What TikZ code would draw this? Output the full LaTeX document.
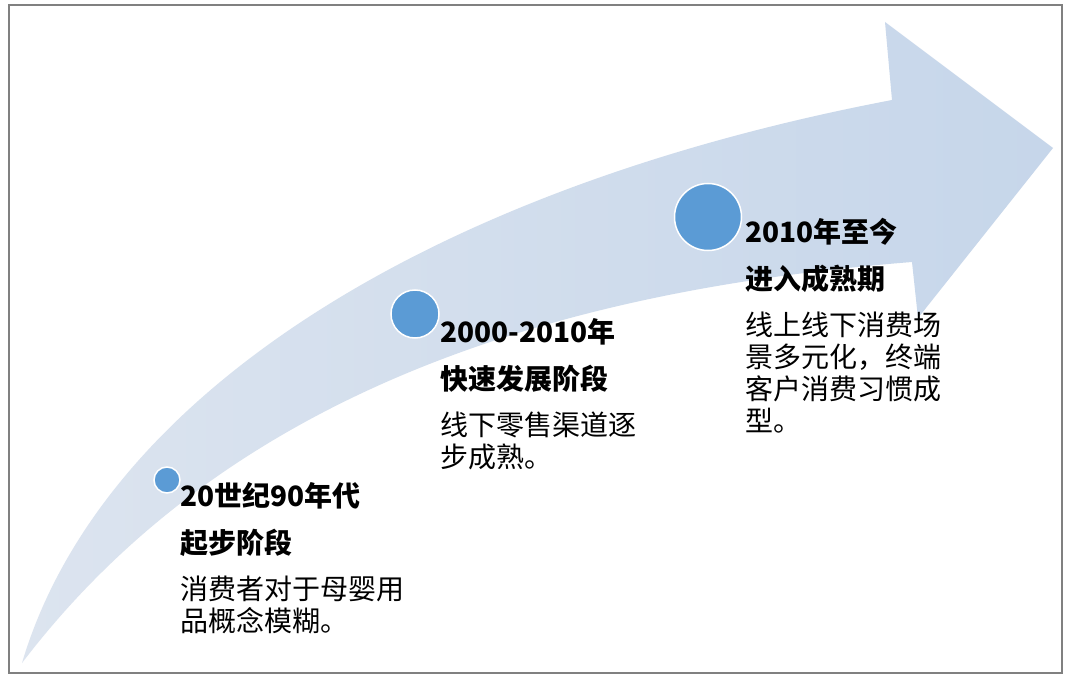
\documentclass[tikz,border=0pt]{standalone}
\usepackage{fontspec}
\setmainfont{Noto Sans CJK SC}
\definecolor{bandlight}{HTML}{DCE4EF}
\definecolor{banddark}{HTML}{C6D6EA}
\definecolor{dotblue}{HTML}{5B9BD5}
\begin{document}
\begin{tikzpicture}[x=1pt,y=-1pt,
  dot/.style={circle,fill=dotblue,draw=white,line width=1.5pt,inner sep=0pt},
  stagetext/.style={anchor=north west,inner sep=0pt,align=left,font=\fontsize{28}{32}\selectfont}]
\useasboundingbox (0,0) rectangle (1072,682);
\fill[white] (0,0) rectangle (1072,682);
\draw[color=black!50,line width=1.2pt] (9,5) rectangle (1062,673);
% arrow band
\shade[left color=bandlight,right color=banddark]
  (22,663) .. controls (100,400) and (420,190) .. (892,100)
  -- (885,22) -- (1053,148) -- (918,318) -- (912,262)
  .. controls (560,290) and (230,390) .. (22,663) -- cycle;
% stages
\node[dot,minimum size=26pt] (dot1) at (167,480) {};
\node[dot,minimum size=48pt] (dot2) at (415,314) {};
\node[dot,minimum size=67pt] (dot3) at (708,217) {};
\node[stagetext] (txt1) at (180,482) {{\bfseries 20世纪90年代}\\[15pt]{\bfseries 起步阶段}\\[14pt]消费者对于母婴用\\品概念模糊。};
\node[stagetext] (txt2) at (440,318) {{\bfseries 2000-2010年}\\[15pt]{\bfseries 快速发展阶段}\\[14pt]线下零售渠道逐\\步成熟。};
\node[stagetext] (txt3) at (745,218) {{\bfseries 2010年至今}\\[15pt]{\bfseries 进入成熟期}\\[14pt]线上线下消费场\\景多元化，终端\\客户消费习惯成\\型。};
\end{tikzpicture}
\end{document}
